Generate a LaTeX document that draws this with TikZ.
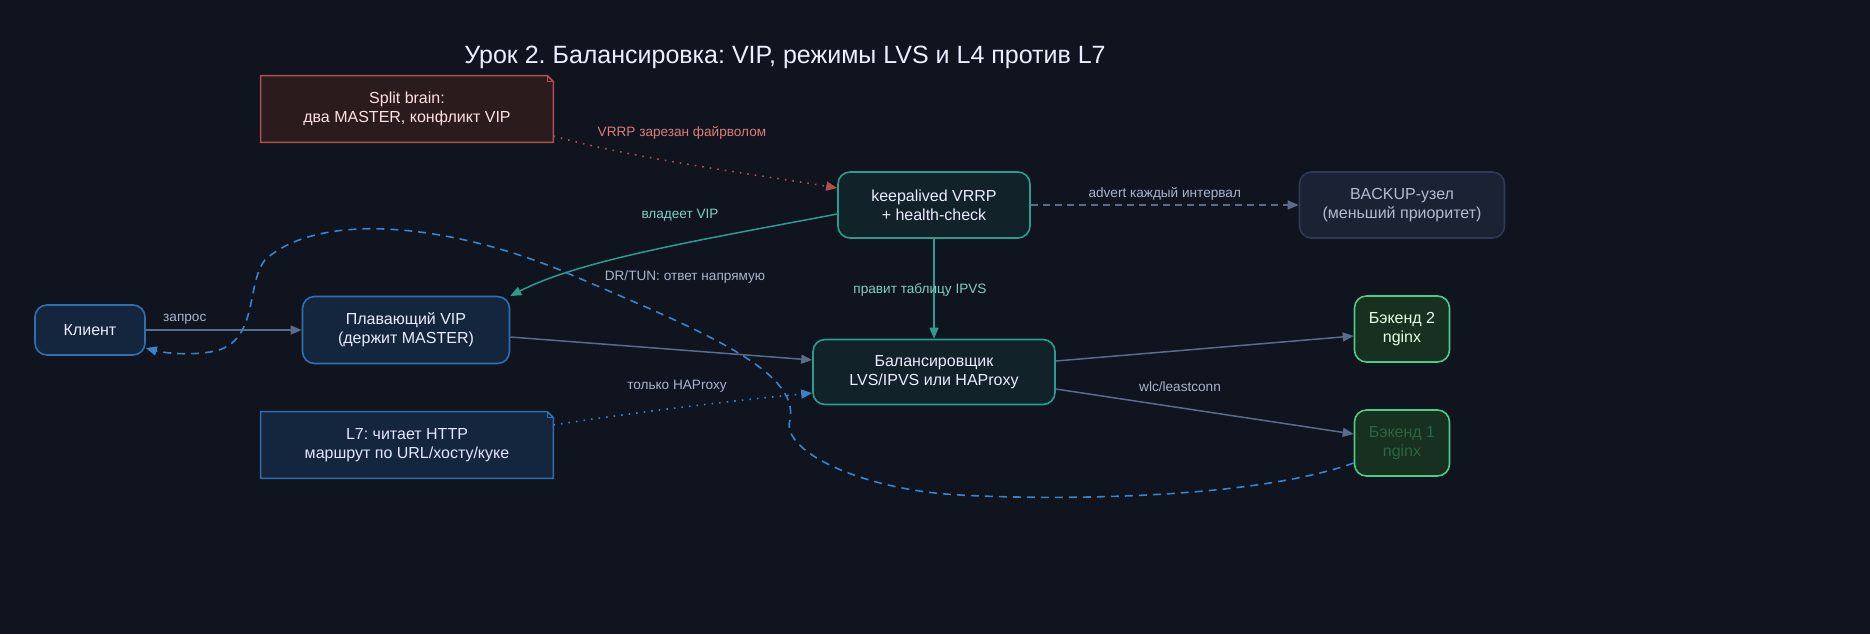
\documentclass[tikz,border=0pt]{standalone}
\usepackage{fontspec}
\setmainfont{Liberation Sans}
\frenchspacing
\usetikzlibrary{arrows.meta}
\definecolor{bg}{HTML}{0F141F}
\definecolor{bluef}{HTML}{13263D}\definecolor{blues}{HTML}{2F6FB0}
\definecolor{tealf}{HTML}{112229}\definecolor{teals}{HTML}{2A9D8F}
\definecolor{grayf}{HTML}{1B2233}\definecolor{grays}{HTML}{2E3A55}
\definecolor{greenf}{HTML}{17301F}\definecolor{greens}{HTML}{4CCB85}
\definecolor{redf}{HTML}{2B1B1C}\definecolor{reds}{HTML}{B0504C}
\definecolor{edge}{HTML}{5D6B8A}\definecolor{elab}{HTML}{A8B4CC}
\definecolor{tlab}{HTML}{7FD0C4}\definecolor{rlab}{HTML}{E07B78}
\definecolor{dashb}{HTML}{3C82C8}
\begin{document}
\begin{tikzpicture}[x=0.5pt,y=-0.5pt,
 box/.style={draw,line width=0.8pt,rounded corners=6pt,align=center,font=\fontsize{8}{9.5}\selectfont,inner sep=0pt},
 blue/.style={box,fill=bluef,draw=blues,text=white!92!blue},
 teal/.style={box,fill=tealf,draw=teals,text=white!92!blue},
 green/.style={box,fill=greenf,draw=greens,text=green!10!white},
 lab/.style={font=\fontsize{6.8}{8}\selectfont,text=elab},
 arr/.style={line width=0.75pt,-{Triangle[length=5.5pt,width=4.5pt]}},
 note/.style={line width=0.8pt},
 notetext/.style={minimum width=146pt,minimum height=33pt,align=center,font=\fontsize{8}{9.5}\selectfont}]
\fill[bg] (0,0) rectangle (1870,634);
\useasboundingbox (0,0) rectangle (1870,634);
\node[text=white!93!blue,font=\fontsize{12.5}{15}\selectfont] (title) at (785,57) {Урок 2. Балансировка: VIP, режимы LVS и L4 против L7};
\node[blue,minimum width=55pt,minimum height=25pt] (cl) at (90,330) {Клиент};
\node[blue,minimum width=103.5pt,minimum height=33.5pt] (vip) at (406,330) {Плавающий VIP\\(держит MASTER)};
\node[teal,minimum width=96pt,minimum height=33pt] (ka) at (934,205) {keepalived VRRP\\+ health-check};
\node[box,fill=grayf,draw=grays,text=elab!90!white,minimum width=102.5pt,minimum height=33pt] (bk) at (1402,205) {BACKUP-узел\\(меньший приоритет)};
\node[teal,minimum width=121pt,minimum height=32.5pt] (lb) at (934,372) {Балансировщик\\LVS/IPVS или HAProxy};
\node[green,minimum width=47.5pt,minimum height=33pt] (b2) at (1402,329) {Бэкенд 2\\nginx};
\node[green,text=greens!35!greenf,minimum width=47.5pt,minimum height=33pt] (b1) at (1402,443) {Бэкенд 1\\nginx};
% notes
\node[notetext] (sb) at (407,109) {};
\draw[note,fill=redf,draw=reds] (sb.south west) -- (sb.north west) -- ([xshift=-3pt]sb.north east) -- ([yshift=-3pt]sb.north east) -- (sb.south east) -- cycle;
\draw[draw=reds,line width=0.5pt] ([xshift=-3pt]sb.north east) -- ([xshift=-3pt,yshift=-3pt]sb.north east) -- ([yshift=-3pt]sb.north east);
\node[notetext,text=red!12!white] at (sb) {Split brain:\\два MASTER, конфликт VIP};
\node[notetext] (l7) at (407,445) {};
\draw[note,fill=bluef,draw=blues] (l7.south west) -- (l7.north west) -- ([xshift=-3pt]l7.north east) -- ([yshift=-3pt]l7.north east) -- (l7.south east) -- cycle;
\draw[draw=blues,line width=0.5pt] ([xshift=-3pt]l7.north east) -- ([xshift=-3pt,yshift=-3pt]l7.north east) -- ([yshift=-3pt]l7.north east);
\node[notetext,text=white!90!blue] at (l7) {L7: читает HTTP\\маршрут по URL/хосту/куке};
% edges
\draw[arr,edge] (cl) -- node[lab,above=-1pt,pos=0.25] {запрос} (vip);
\draw[arr,edge] (vip.east |- 0,337) -- (lb.west |- 0,360);
\draw[arr,teals] (ka.west |- 0,214) .. controls (700,240) and (580,260) .. (vip.north east |- 0,296) ;
\node[lab,text=tlab] at (680,215) {владеет VIP};
\draw[arr,teals] (ka) -- (lb);
\node[lab,text=tlab] at (920,290) {правит таблицу IPVS};
\draw[arr,edge,dash pattern=on 3.5pt off 2.5pt] (ka) -- node[lab,above=-1.5pt] {advert каждый интервал} (bk);
\draw[arr,edge] (lb.east |- 0,361) -- (b2.west |- 0,336);
\draw[arr,edge] (lb.east |- 0,389) -- (b1.west |- 0,434);
\node[lab] at (1180,387) {wlc/leastconn};
\draw[arr,reds,line width=0.8pt,dash pattern=on 0.8pt off 3pt] (sb.east |- 0,136) .. controls (640,160) and (760,175) .. (ka.west |- 0,188);
\node[lab,text=rlab] at (682,133) {VRRP зарезан файрволом};
\draw[arr,dashb,line width=0.8pt,dash pattern=on 0.8pt off 3pt] (l7.east |- 0,425) .. controls (650,410) and (740,400) .. (lb.west |- 0,393);
\node[lab] at (677,386) {только HAProxy};
\draw[arr,dashb,line width=0.8pt,dash pattern=on 4pt off 3pt] (b1.west |- 0,463) .. controls (1250,500) and (1050,500) .. (960,495)
 .. controls (860,490) and (780,450) .. (790,420)
 .. controls (800,370) and (700,330) .. (560,270)
 .. controls (450,225) and (320,210) .. (265,260)
 .. controls (245,285) and (260,345) .. (210,352)
 .. controls (185,356) and (160,352) .. (cl.east |- 0,348);
\node[lab] at (685,277) {DR/TUN: ответ напрямую};
\end{tikzpicture}
\end{document}
